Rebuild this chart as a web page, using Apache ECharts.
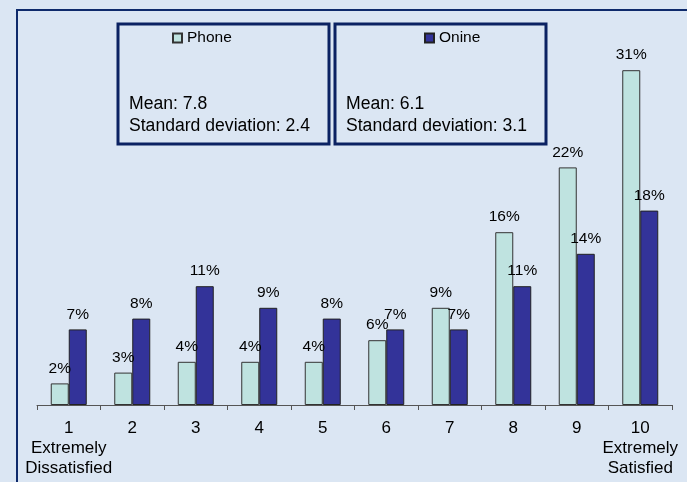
<!DOCTYPE html>
<html>
<head>
<meta charset="utf-8">
<script src="https://cdn.jsdelivr.net/npm/echarts@6/dist/echarts.min.js"></script>
<style>
html,body{margin:0;padding:0;background:#dbe6f3;}
#c{width:687px;height:482px;}
</style>
</head>
<body>
<div id="c"></div>
<script>
const categories = ['1\nExtremely\nDissatisfied','2','3','4','5','6','7','8','9','10\nExtremely\nSatisfied'];
const seriesNames = ['Phone','Onine'];
const phone = [2,3,4,4,4,6,9,16,22,31];
const online = [7,8,11,9,8,7,7,11,14,18];
const means = [7.8, 6.1];
const stdDevs = [2.4, 3.1];

const FONT = '"Liberation Sans", Arial, sans-serif';
const chart = echarts.init(document.getElementById('c'), null, {renderer:'canvas'});

function boxGraphic(x, mean, sd){
  return [
    {type:'rect', shape:{x:x, y:24, width:211, height:120}, style:{fill:'none', stroke:'#0b2262', lineWidth:3}, z:1},
    {type:'text', x:x+11, y:95, style:{text:'Mean: '+mean.toFixed(1), font:'17.6px '+FONT, fill:'#000'}},
    {type:'text', x:x+11, y:117, style:{text:'Standard deviation: '+sd.toFixed(1), font:'17.6px '+FONT, fill:'#000'}}
  ];
}

const option = {
  backgroundColor:'#dbe6f3',
  animation:false,
  textStyle:{fontFamily:FONT},
  graphic:[
    {type:'rect', shape:{x:17, y:10, width:700, height:500}, style:{fill:'none', stroke:'#0e2a6b', lineWidth:2}},
    ...boxGraphic(118, means[0], stdDevs[0]),
    ...boxGraphic(335, means[1], stdDevs[1])
  ],
  legend:[
    {data:[seriesNames[0]], left:167, top:25, icon:'rect', itemWidth:9, itemHeight:9, itemGap:5,
     textStyle:{fontSize:15.5, color:'#000', fontFamily:FONT}},
    {data:[seriesNames[1]], left:419, top:25, icon:'rect', itemWidth:9, itemHeight:9, itemGap:5,
     textStyle:{fontSize:15.5, color:'#000', fontFamily:FONT}}
  ],
  grid:{left:37, right:15, top:27, bottom:77},
  xAxis:{
    type:'category',
    data:categories,
    axisLine:{show:true, lineStyle:{color:'#555', width:1}},
    axisTick:{show:true, length:5, lineStyle:{color:'#555'}},
    axisLabel:{interval:0, margin:13, fontSize:17, lineHeight:20, color:'#000', fontFamily:FONT}
  },
  yAxis:{type:'value', min:0, max:35, show:false, splitLine:{show:false}},
  series:[
    {name:seriesNames[0], type:'bar', data:phone, barWidth:18, barGap:'0%',
     itemStyle:{color:'#bfe3e0', borderColor:'#333', borderWidth:1},
     label:{show:true, position:'top', distance:7, formatter:'{c}%', fontSize:15.5, color:'#000', fontFamily:FONT}},
    {name:seriesNames[1], type:'bar', data:online, barWidth:18, barGap:'0%',
     itemStyle:{color:'#333399', borderColor:'#222', borderWidth:1},
     label:{show:true, position:'top', distance:7, formatter:'{c}%', fontSize:15.5, color:'#000', fontFamily:FONT}}
  ]
};
chart.setOption(option);
</script>
</body>
</html>
